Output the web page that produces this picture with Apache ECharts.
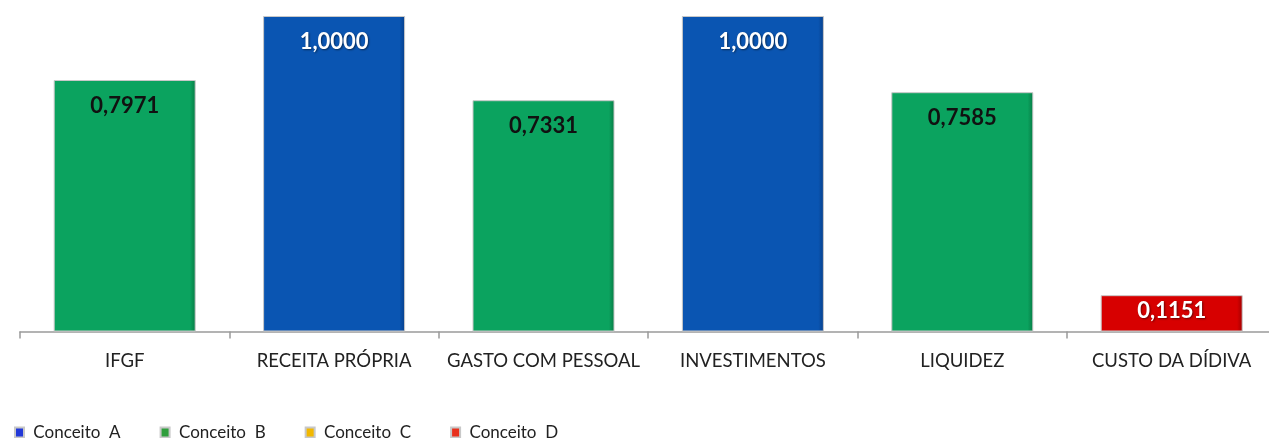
<!DOCTYPE html>
<html><head><meta charset="utf-8">
<script src="https://cdn.jsdelivr.net/npm/echarts@6/dist/echarts.min.js"></script>
<style>html,body{margin:0;padding:0;background:#fff}#c{width:1269px;height:438px}</style>
</head><body><div id="c"></div>
<script>
const categories = ['IFGF', 'RECEITA PRÓPRIA', 'GASTO COM PESSOAL', 'INVESTIMENTOS', 'LIQUIDEZ', 'CUSTO DA DÍDIVA'];
const values = [0.7971, 1.0000, 0.7331, 1.0000, 0.7585, 0.1151];
const concepts = ['B', 'A', 'B', 'A', 'B', 'D'];
const legendNames = ['Conceito  A', 'Conceito  B', 'Conceito  C', 'Conceito  D'];
const conceptKeys = ['A', 'B', 'C', 'D'];

const barColors = {
  A: ['#3f86e0', '#0a55b2', '#073f8a'],
  B: ['#3fcf8a', '#0ba35f', '#077a44'],
  C: ['#ffd84a', '#f0b400', '#b78600'],
  D: ['#ff4a4a', '#d70000', '#a00000']
};
const legendColors = { A: '#2238d8', B: '#2f9e3c', C: '#f2b800', D: '#e8301c' };
const labelColors = { A: '#ffffff', B: '#111111', C: '#111111', D: '#ffffff' };
const labelDist = { A: 15, B: 15, C: 15, D: 5 };

function fmt(v) { return v.toFixed(4).replace('.', ','); }

const series = conceptKeys.map((k, i) => ({
  name: legendNames[i],
  type: 'bar',
  barWidth: 142,
  barGap: '-100%',
  data: values.map((v, j) => concepts[j] === k ? v : null),
  itemStyle: {
    color: new echarts.graphic.LinearGradient(0, 0, 1, 0, [
      { offset: 0, color: barColors[k][1] },
      { offset: 0.03, color: barColors[k][1] },
      { offset: 0.96, color: barColors[k][1] },
      { offset: 1, color: barColors[k][2] }
    ]),
    borderColor: '#c8c8c8',
    borderWidth: 1
  },
  label: {
    show: true,
    position: 'insideTop',
    distance: labelDist[k],
    formatter: p => fmt(p.value),
    color: labelColors[k],
    fontFamily: 'Lato',
    fontWeight: 'bold',
    fontSize: 22,
    textShadowColor: labelColors[k] === '#ffffff' ? 'rgba(0,0,0,0.5)' : 'transparent',
    textShadowBlur: 2,
    textShadowOffsetX: 1,
    textShadowOffsetY: 1
  }
}));

const chart = echarts.init(document.getElementById('c'), null, { renderer: 'canvas' });
chart.setOption({
  animation: false,
  grid: { left: 20, top: 16, bottom: 106.5, width: 1256.4, containLabel: false, outerBoundsMode: 'none' },
  legend: {
    left: 14, top: 424, padding: 0,
    icon: 'rect', itemWidth: 9, itemHeight: 10, itemGap: 39,
    formatter: n => ' ' + n,
    textStyle: { fontFamily: 'Lato', fontSize: 17, color: '#222' },
    data: legendNames.map((n, i) => ({ name: n, itemStyle: { color: legendColors[conceptKeys[i]] } }))
  },
  xAxis: {
    type: 'category',
    data: categories,
    axisLine: { lineStyle: { color: '#9a9a9a', width: 1.5 } },
    axisTick: { show: true, length: 7, lineStyle: { color: '#9a9a9a', width: 1.5 } },
    axisLabel: { margin: 20, fontFamily: 'Lato', fontSize: 18.5, color: '#222', interval: 0 }
  },
  yAxis: { type: 'value', min: 0, max: 1, show: false, splitLine: { show: false } },
  series: series
});
</script></body></html>
